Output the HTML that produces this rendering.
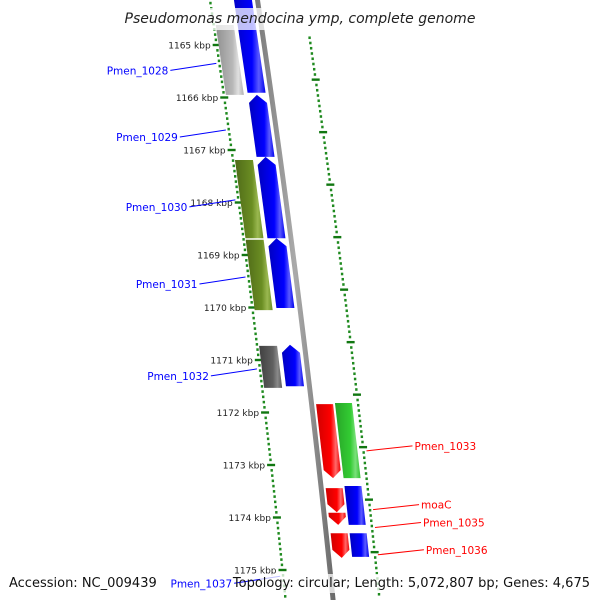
<!DOCTYPE html>
<html><head><meta charset="utf-8"><style>
html,body{margin:0;padding:0;background:#fff;overflow:hidden;}
svg{display:block;font-family:"DejaVu Sans","Liberation Sans",sans-serif;}
</style></head><body>
<svg id="map" width="600" height="600" viewBox="0 0 600 600">
<defs>
<linearGradient id="g-blue"><stop offset="0" stop-color="#0000c0"/><stop offset="0.6" stop-color="#0000ff"/><stop offset="0.8" stop-color="#5a5aff"/><stop offset="1" stop-color="#0000ee"/></linearGradient>
<linearGradient id="g-gray"><stop offset="0" stop-color="#909090"/><stop offset="0.6" stop-color="#b8b8b8"/><stop offset="0.8" stop-color="#e0e0e0"/><stop offset="1" stop-color="#b0b0b0"/></linearGradient>
<linearGradient id="g-olive"><stop offset="0" stop-color="#4f6a18"/><stop offset="0.6" stop-color="#6b8e23"/><stop offset="0.8" stop-color="#9ab850"/><stop offset="1" stop-color="#6b8e23"/></linearGradient>
<linearGradient id="g-dgray"><stop offset="0" stop-color="#404040"/><stop offset="0.6" stop-color="#606060"/><stop offset="0.8" stop-color="#8a8a8a"/><stop offset="1" stop-color="#5a5a5a"/></linearGradient>
<linearGradient id="g-red"><stop offset="0" stop-color="#d00000"/><stop offset="0.6" stop-color="#ff0000"/><stop offset="0.8" stop-color="#ff6a6a"/><stop offset="1" stop-color="#ee0000"/></linearGradient>
<linearGradient id="g-green"><stop offset="0" stop-color="#28a428"/><stop offset="0.6" stop-color="#33cc33"/><stop offset="0.8" stop-color="#7ae07a"/><stop offset="1" stop-color="#30c030"/></linearGradient>
<linearGradient id="g-cyan"><stop offset="0" stop-color="#00a0d0"/><stop offset="0.6" stop-color="#00bfff"/><stop offset="1" stop-color="#60d8ff"/></linearGradient>
<linearGradient id="g-bb"><stop offset="0" stop-color="#777"/><stop offset="0.5" stop-color="#aaa"/><stop offset="1" stop-color="#666"/></linearGradient>
</defs>
<g id="ticks"></g>
<g id="genes"></g>
<g id="labels"></g>
</svg>
<script>
const NS="http://www.w3.org/2000/svg";
const geneNames=["gray1","blue1","blue2","blue3","blue4","olive1","olive2","gray2","blue5","Pmen_1033","green1","moaC","red3","blue6","Pmen_1036","blue7","red5","cyan1"];
const geneStart=[1164.62,1163.7,1165.95,1167.13,1168.68,1167.19,1168.71,1170.73,1170.71,1171.84,1171.82,1173.44,1173.91,1173.40,1174.30,1174.30,1175.70,1175.70];
const geneEnd=[1165.95,1165.91,1167.13,1168.68,1170.01,1168.68,1170.05,1171.53,1171.50,1173.25,1173.25,1173.90,1174.14,1174.14,1174.77,1174.75,1176.5,1176.5];
const geneTrack=[-2,-1,-1,-1,-1,-2,-2,-2,-1,1,2,1,1,2,1,2,1,2];
const geneColor=["gray","blue","blue","blue","blue","olive","olive","dgray","blue","red","green","red","red","blue","red","blue","red","cyan"];
const geneArrow=[0,1,1,1,1,0,0,0,1,-1,0,-1,-1,0,-1,0,0,0];
const tickKbp=[1165,1166,1167,1168,1169,1170,1171,1172,1173,1174,1175];
const tickLabels=["1165 kbp","1166 kbp","1167 kbp","1168 kbp","1169 kbp","1170 kbp","1171 kbp","1172 kbp","1173 kbp","1174 kbp","1175 kbp"];
const labelText=["Pmen_1028","Pmen_1029","Pmen_1030","Pmen_1031","Pmen_1032","Pmen_1037","Pmen_1033","moaC","Pmen_1035","Pmen_1036"];
const labelKbp=[1165.35,1166.62,1167.95,1169.42,1171.17,1175.12,1172.73,1173.85,1174.19,1174.71];
const labelSide=[-1,-1,-1,-1,-1,-1,1,1,1,1];

function Y(k){return 45+(k-1165)*52.5;}
function BX(y){return 257+0.15*y-0.00004*y*y;}
function P(k,off){const y=Y(k);return [BX(y)+off,y];}
const tracks={"-2":[-45,-27],"-1":[-23,-5],"1":[5,22],"2":[24,41]};
const svg=document.getElementById('map');
const gT=document.getElementById('ticks'),gG=document.getElementById('genes'),gL=document.getElementById('labels');
function mk(tag,attrs,parent){const e=document.createElementNS(NS,tag);for(const a in attrs)e.setAttribute(a,attrs[a]);parent.appendChild(e);return e;}

{
  let pts=[];for(let y=-10;y<=610;y+=10){pts.push((BX(y)-2)+","+y);}
  for(let y=610;y>=-10;y-=10){pts.push((BX(y)+3)+","+y);}
  const bb=mk('polygon',{points:pts.join(' '),fill:'url(#g-bb)'},gT);
  
  
}
for(let k=1164.2;k<=1176.0;k+=0.1){
  const kk=Math.round(k*10)/10;
  const major=Math.abs(kk-Math.round(kk))<0.01;
  const a=P(kk,-47);
  if(a[1]<598){
  const d=mk('rect',{x:a[0]-(major?4:1.2),y:a[1]-1.2,width:major?8:2.4,height:major?2.4:2.6,fill:major?'#117711':'#1f8a1f'},gT);
  
  }
  const b=P(kk+0.66,47);
  if(b[1]<598){
  const e=mk('rect',{x:b[0]-(major?4:1.2),y:b[1]-1.2,width:major?8:2.4,height:major?2.4:2.6,fill:major?'#117711':'#1f8a1f'},gT);
  
  }
}
tickKbp.forEach((k,i)=>{
  const a=P(k,-47);
  const t=mk('text',{x:a[0]-6,y:a[1]+3.5,'font-size':'9','text-anchor':'end',fill:'#222'},gT);
  t.textContent=tickLabels[i];
  
  
});
geneStart.forEach((s,i)=>{
  const e=geneEnd[i],tr=tracks[String(geneTrack[i])],o1=tr[0],o2=tr[1],om=(o1+o2)/2;
  const ah=8/52.5;let pts=[];
  if(geneArrow[i]===1){
    pts=[P(s+ah,o1),P(s,om),P(s+ah,o2),P(e,o2),P(e,o1)];
  }else if(geneArrow[i]===-1){
    pts=[P(s,o1),P(s,o2),P(e-ah,o2),P(e,om),P(e-ah,o1)];
  }else{pts=[P(s,o1),P(s,o2),P(e,o2),P(e,o1)];}
  const g=mk('polygon',{points:pts.map(p=>p.join(',')).join(' '),fill:'url(#g-'+geneColor[i]+')'},gG);
  
  
});
labelText.forEach((t,i)=>{
  const side=labelSide[i];
  const anchor=P(labelKbp[i],side<0?-50:50);
  const x2=anchor[0]+side*46,y2=anchor[1]+7*(side<0?1:-1)*-1*-1;
  const col=side<0?'#0000ff':'#ff0000';
  const ln=mk('line',{x1:anchor[0],y1:anchor[1],x2:x2,y2:side<0?anchor[1]+7:anchor[1]-5,stroke:col,'stroke-width':1},gL);
  
  
  const ty=(side<0?anchor[1]+7:anchor[1]-5)+4;
  const tx=mk('text',{x:x2+side*2,y:ty,'font-size':'10.5','text-anchor':side<0?'end':'start',fill:col},gL);
  tx.textContent=t;
  
  
});
const band1=mk('rect',{x:126,y:8,width:348,height:22,fill:'#fff','fill-opacity':0.75},svg);


const title=mk('text',{x:300,y:23,'font-size':'14','font-style':'italic','text-anchor':'middle',fill:'#222'},svg);
title.textContent='Pseudomonas mendocina ymp, complete genome';


const band2=mk('rect',{x:260,y:574,width:336,height:19,fill:'#fff','fill-opacity':0.75},svg);


const acc=mk('text',{x:9,y:587,'font-size':'13',fill:'#111'},svg);
acc.textContent='Accession: NC_009439';


const topo=mk('text',{x:590,y:587,'font-size':'13','text-anchor':'end',fill:'#111'},svg);
topo.textContent='Topology: circular; Length: 5,072,807 bp; Genes: 4,675';


</script>
</body></html>
